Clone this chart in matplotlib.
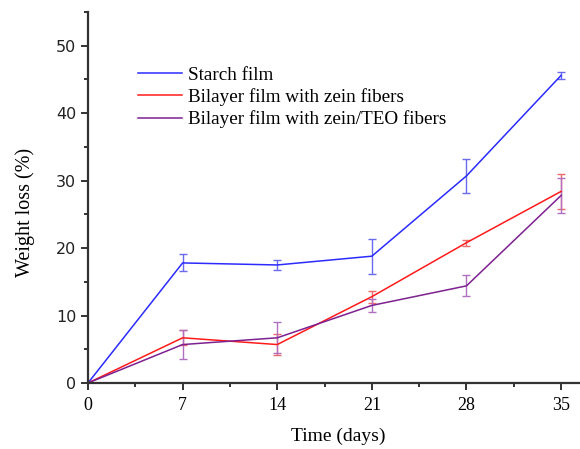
import matplotlib
matplotlib.use("Agg")
import matplotlib.pyplot as plt
from matplotlib.ticker import MultipleLocator
from matplotlib.lines import Line2D

days = [0, 7, 14, 21, 28, 35]
starch = [0, 17.8, 17.5, 18.8, 30.7, 45.6]
starch_err = [0, 1.25, 0.8, 2.6, 2.5, 0.5]
zein = [0, 6.7, 5.7, 12.8, 20.8, 28.4]
zein_err = [0, 1.1, 1.5, 0.9, 0.45, 2.6]
teo = [0, 5.7, 6.7, 11.5, 14.4, 27.8]
teo_err = [0, 2.1, 2.3, 1.0, 1.55, 2.6]
labels = ["Starch film", "Bilayer film with zein fibers", "Bilayer film with zein/TEO fibers"]
xticks = [0, 7, 14, 21, 28, 35]
yticks = [0, 10, 20, 30, 40, 50]

fig = plt.figure(figsize=(5.8, 4.49), dpi=100)
ax = fig.add_axes([88/580, 66/449, 492/580, 371/449])

serif = "Liberation Serif"
series = [(starch, starch_err, "#2b2bff", "#6a6aee"),
          (zein, zein_err, "#ff1a1a", "#ee6a6a"),
          (teo, teo_err, "#7d2090", "#b070c0")]
handles = []
for (vals, err, c, ec), lab in zip(series, labels):
    ax.errorbar(days, vals, yerr=err, color=c, ecolor=ec, elinewidth=1.0,
                capsize=3, capthick=1.0, lw=1.1)
    handles.append(Line2D([], [], color=c, lw=1.1, label=lab))

ax.set_xlim(0, 36.4)
ax.set_ylim(0, 55)
ax.set_xticks(xticks)
ax.set_yticks(yticks)
ax.xaxis.set_minor_locator(MultipleLocator(3.5))
ax.yaxis.set_minor_locator(MultipleLocator(5))
for s in ["top", "right"]:
    ax.spines[s].set_visible(False)
for s in ["left", "bottom"]:
    ax.spines[s].set_color("#333333")
    ax.spines[s].set_linewidth(1.6)
ax.tick_params(which="both", direction="out", color="#333333", width=1.4)
ax.tick_params(which="major", length=5)
ax.tick_params(which="minor", length=3)
ax.tick_params(axis="x", pad=5)
for t in ax.get_xticklabels():
    t.set_fontfamily(serif)
    t.set_fontsize(13)
for t in ax.get_yticklabels():
    t.set_fontfamily("DejaVu Sans")
    t.set_fontsize(11.5)
    t.set_color("#222222")

ax.set_xlabel("Time (days)", fontfamily=serif, fontsize=14)
ax.xaxis.set_label_coords(338/580, 1 - 428/449, transform=fig.transFigure)
ax.set_ylabel("Weight loss (%)", fontfamily=serif, fontsize=14.5)
ax.yaxis.set_label_coords(35/580, 1 - 212/449, transform=fig.transFigure)

leg = ax.legend(handles=handles, loc="upper left", bbox_to_anchor=(130/580, 1 - 59/449),
                bbox_transform=fig.transFigure, frameon=False,
                prop={"family": serif, "size": 13.8}, handlelength=2.3,
                handletextpad=0.3, labelspacing=0.22, borderaxespad=0)

fig.savefig("out.png", dpi=100)
